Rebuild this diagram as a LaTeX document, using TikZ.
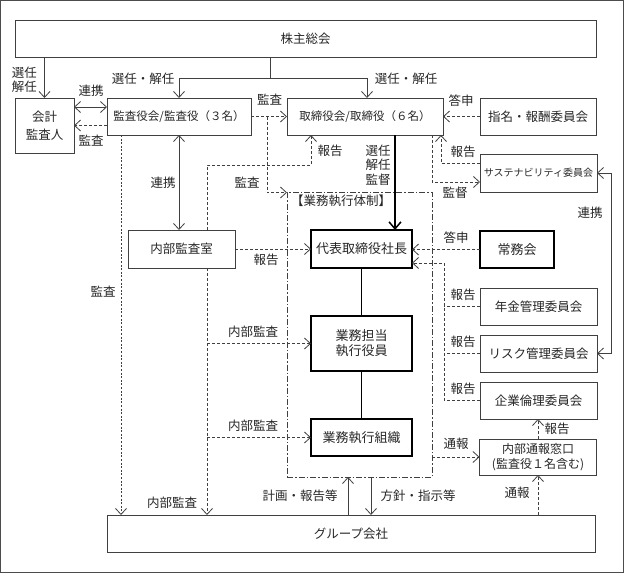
\documentclass[tikz,border=0pt]{standalone}
\usepackage{fontspec}
\setmainfont{Noto Sans CJK JP}
\usetikzlibrary{arrows.meta,calc}
\begin{document}
\begin{tikzpicture}[x=1pt,y=-1pt,
 box/.style={draw=black!75, line width=0.8pt, inner sep=0pt, outer sep=0pt, align=center, text=black!85, font=\fontsize{12.5}{15}\selectfont},
 tbox/.style={box, draw=black, line width=1.6pt, font=\fontsize{13}{15}\selectfont},
 lbl/.style={inner sep=0pt, text=black!85, font=\fontsize{12.5}{14.5}\selectfont, align=center},
 tip/.tip={Straight Barb[length=6pt,width=11pt]},
 arr/.style={draw=black!75, line width=0.8pt, -tip},
 arr2/.style={draw=black!75, line width=0.8pt, tip-tip},
 darr/.style={arr, dash pattern=on 3pt off 2pt},
 dline/.style={draw=black!75, line width=0.8pt, dash pattern=on 3pt off 2pt},
 dotarr/.style={arr, dash pattern=on 2pt off 1.6pt},
 thickln/.style={draw=black, line width=1.5pt},
 framebox/.style={draw=black!75, line width=0.8pt, dash pattern=on 6pt off 2pt on 1.5pt off 2pt, inner sep=0pt, outer sep=0pt}
]
\useasboundingbox (0,0) rectangle (624,573);
\draw[black!70, line width=1pt] (0.5,0.5) rectangle (623.5,572.5);

% boxes
\node[box, minimum width=581pt, minimum height=37pt] (soukai) at (305.5,38.5) {株主総会};
\node[box, minimum width=59pt, minimum height=55pt, font=\fontsize{12.5}{18}\selectfont] (kaikei) at (44.5,125.5) {会計\\監査人};
\node[box, minimum width=144pt, minimum height=37pt, font=\fontsize{11.5}{14}\selectfont] (kansa) at (179,116.5) {監査役会/監査役（３名）};
\node[box, minimum width=156pt, minimum height=37pt, font=\fontsize{11.5}{14}\selectfont] (torishimari) at (365,116.5) {取締役会/取締役（６名）};
\node[box, minimum width=116pt, minimum height=37pt] (shimei) at (538,116.5) {指名・報酬委員会};
\node[box, minimum width=117pt, minimum height=38pt, font=\fontsize{10}{12}\selectfont] (sustain) at (538.5,173) {サステナビリティ委員会};
\node[box, minimum width=107pt, minimum height=38pt] (naibu) at (181.5,249) {内部監査室};
\node[tbox, minimum width=101pt, minimum height=38pt] (daihyo) at (361.5,249) {代表取締役社長};
\node[tbox, minimum width=74pt, minimum height=37pt] (jomu) at (517,249.5) {常務会};
\node[box, minimum width=117pt, minimum height=37pt] (nenkin) at (538.5,306.5) {年金管理委員会};
\node[box, minimum width=117pt, minimum height=37pt] (risk) at (538.5,353.5) {リスク管理委員会};
\node[box, minimum width=117pt, minimum height=37pt] (rinri) at (538.5,400.5) {企業倫理委員会};
\node[box, minimum width=117pt, minimum height=36pt, font=\fontsize{12}{15}\selectfont] (tsuho) at (538,457) {内部通報窓口\\(監査役１名含む)};
\node[tbox, minimum width=101pt, minimum height=55pt] (gyomu) at (361.5,343.5) {業務担当\\執行役員};
\node[tbox, minimum width=101pt, minimum height=37pt] (soshiki) at (361.5,437.5) {業務執行組織};
\node[box, minimum width=488pt, minimum height=37pt] (group) at (351,533.5) {グループ会社};
\node[framebox, minimum width=145pt, minimum height=285pt] (frame) at (359.5,334.5) {};
\node[lbl] (framelbl) at (341,201) {【業務執行体制】};

% helper coordinates
\coordinate (br) at (270,78);
\coordinate (k1) at ([yshift=18.5pt]kaikei.east);
\coordinate (kb) at (267,116.5);
\coordinate (nb) at ([xshift=25.5pt]naibu.north);
\coordinate (nb2) at ([xshift=25.5pt]naibu.south);
\coordinate (t311) at ([xshift=24pt]torishimari.south west);
\coordinate (k121) at ([xshift=14pt]kansa.south west);
\coordinate (d395) at ([xshift=33.5pt]daihyo.north);
\coordinate (t432) at ([xshift=-11pt]torishimari.south east);
\coordinate (s182) at ([yshift=-9pt]sustain.west);
\coordinate (t441) at ([xshift=-2pt]torishimari.south east);
\coordinate (s163) at ([yshift=10pt]sustain.west);
\coordinate (d263) at ([yshift=-14pt]daihyo.east);
\coordinate (r444) at ([xshift=-36pt]rinri.west);
\coordinate (f348) at ([xshift=-11.5pt]frame.south);
\coordinate (f371) at ([xshift=11.5pt]frame.south);

% connectors
\draw[arr] (kaikei.north |- soukai.south) -- (kaikei.north);
\draw[draw=black!75, line width=0.8pt] (soukai.south -| br) -- (br);
\draw[arr] (br) -| (kansa.north);
\draw[arr] (br) -| ([xshift=2pt]torishimari.north);
\draw[arr2] (k1) -- (k1 -| kansa.west);
\draw[darr] (kansa.west |- kaikei.east) -- (kaikei.east);
\draw[darr] (kansa.east) -- (torishimari.west);
\draw[darr] (kb) |- ([yshift=-0.5pt]frame.north west);
\draw[darr] (nb) |- ($(t311)+(0,30)$) -- (t311);
\draw[arr2] (kansa.south) -- (kansa.south |- naibu.north);
\draw[dotarr] (k121) -- (k121 |- group.north);
\draw[darr] (naibu.east) -- (daihyo.west);
\draw[darr] (nb2) -- (nb2 |- group.north);
\draw[darr] (nb2 |- gyomu.west) -- (gyomu.west);
\draw[darr] (nb2 |- soshiki.west) -- (soshiki.west);
\draw[thickln, -{Straight Barb[length=7pt,width=12pt]}] (torishimari.south -| d395) -- (d395);
\draw[thickln] (daihyo.south) -- (gyomu.north);
\draw[thickln] (gyomu.south) -- (soshiki.north);
\draw[darr] (shimei.west) -- (torishimari.east);
\draw[darr] (t432) |- (s182);
\draw[darr] (s163) -| (t441);
\draw[arr2] (sustain.east) -- ++(14,0) |- (risk.east);
\draw[darr] (jomu.west) -- (jomu.west -| daihyo.east);
\draw[darr] (r444) |- (d263);
\draw[dline] (nenkin.west) -- (nenkin.west -| r444);
\draw[dline] (risk.west) -- (risk.west -| r444);
\draw[dline] (rinri.west) -- (r444);
\draw[darr] (tsuho.north) -- (tsuho.north |- rinri.south);
\draw[darr] (tsuho.west -| frame.east) -- (tsuho.west);
\draw[darr] (tsuho.south |- group.north) -- (tsuho.south);
\draw[arr] (f348 |- group.north) -- (f348);
\draw[arr] (f371) -- (f371 |- group.north);

% labels
\node[lbl] (l1) at (24.5,80) {選任\\解任};
\node[lbl] (l2) at (143,79) {選任・解任};
\node[lbl] (l3) at (406,79) {選任・解任};
\node[lbl] (l4) at (91,91) {連携};
\node[lbl] (l5) at (91,141) {監査};
\node[lbl] (l6) at (269.5,100) {監査};
\node[lbl] (l7) at (461,101) {答申};
\node[lbl] (l8) at (330,151) {報告};
\node[lbl] (l9) at (378,165) {選任\\解任\\監督};
\node[lbl] (l10) at (463,152) {報告};
\node[lbl] (l11) at (455,193) {監督};
\node[lbl] (l12) at (590,213) {連携};
\node[lbl] (l13) at (247,183) {監査};
\node[lbl] (l14) at (163,183) {連携};
\node[lbl] (l15) at (266,260) {報告};
\node[lbl] (l16) at (456,238) {答申};
\node[lbl] (l17) at (103,292) {監査};
\node[lbl] (l18) at (253,332) {内部監査};
\node[lbl] (l19) at (253,426) {内部監査};
\node[lbl] (l20) at (463,295) {報告};
\node[lbl] (l21) at (463,342) {報告};
\node[lbl] (l22) at (463,389) {報告};
\node[lbl] (l23) at (557,429) {報告};
\node[lbl] (l24) at (456,444) {通報};
\node[lbl] (l25) at (172,503) {内部監査};
\node[lbl] (l26) at (300,496) {計画・報告等};
\node[lbl] (l27) at (418,496) {方針・指示等};
\node[lbl] (l28) at (517,493) {通報};
\end{tikzpicture}
\end{document}
